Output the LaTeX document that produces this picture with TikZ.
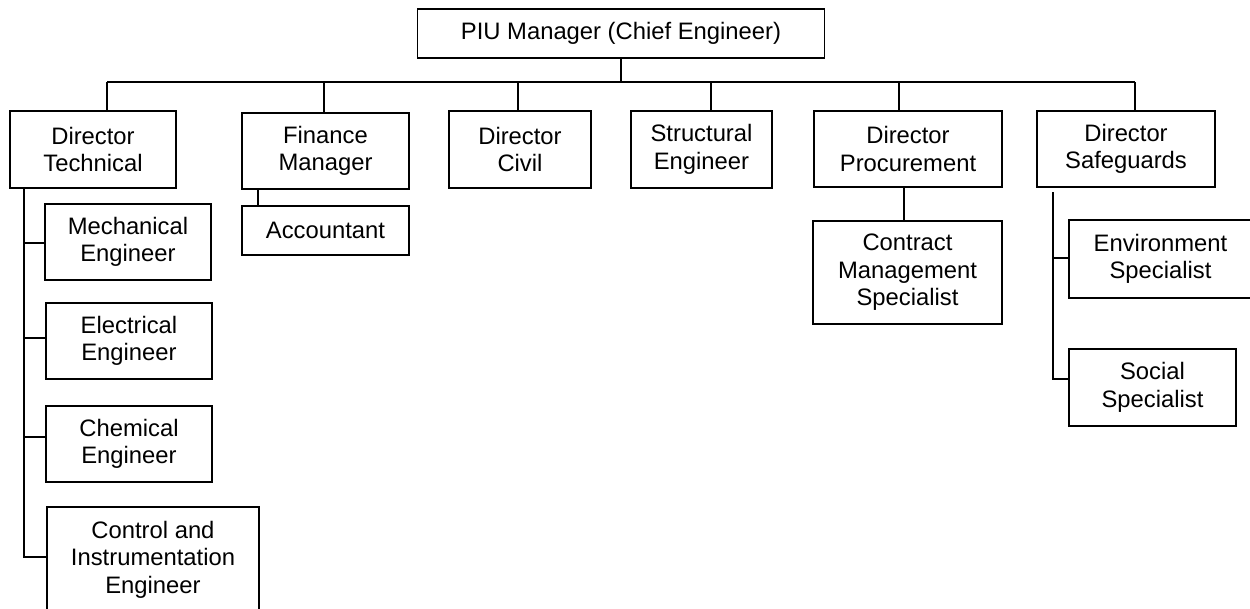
\documentclass[tikz,border=0pt]{standalone}
\usepackage{fontspec}
\setmainfont{Liberation Sans}
\begin{document}
\begin{tikzpicture}[x=1pt,y=-1pt,
  box/.style={draw,line width=1.6pt,rectangle,inner sep=0pt,align=center,
    font=\fontsize{23.8}{27.5}\selectfont},
  conn/.style={line width=1.6pt}]
\useasboundingbox (0,0) rectangle (1250,608);
\clip (0,0) rectangle (1250,608);
\node[box,minimum width=407,minimum height=49] (piu) at (621,33.5) {PIU Manager (Chief Engineer)};
\node[box,minimum width=166,minimum height=77] (dt) at (93,149.5) {Director\\Technical};
\node[box,minimum width=167,minimum height=76] (fm) at (325.5,151) {Finance\\Manager};
\node[box,minimum width=167,minimum height=49] (acc) at (325.5,230.5) {Accountant};
\node[box,minimum width=142,minimum height=77] (dc) at (520,149.5) {Director\\Civil};
\node[box,minimum width=141,minimum height=77] (se) at (701.5,149.5) {Structural\\Engineer};
\node[box,minimum width=188,minimum height=76] (dp) at (908,149) {Director\\Procurement};
\node[box,minimum width=189,minimum height=103] (cms) at (907.5,272.5) {Contract\\Management\\Specialist};
\node[box,minimum width=178,minimum height=76] (ds) at (1126,149) {Director\\Safeguards};
\node[box,minimum width=183,minimum height=78] (env) at (1160.5,259) {Environment\\Specialist};
\node[box,minimum width=167,minimum height=77] (soc) at (1152.5,387.5) {Social\\Specialist};
\node[box,minimum width=166,minimum height=76] (me) at (128,242) {Mechanical\\Engineer};
\node[box,minimum width=166,minimum height=76] (ee) at (129,341) {Electrical\\Engineer};
\node[box,minimum width=166,minimum height=76] (ce) at (129,444) {Chemical\\Engineer};
\node[box,minimum width=212,minimum height=105] (ci) at (153,559.5) {Control and\\Instrumentation\\Engineer};
% top bus
\coordinate (busL) at (107,82);
\coordinate (busR) at (1135,82);
\draw[conn] (piu.south) -- (piu.south |- busL);
\draw[conn] (busL) -- (busR);
\draw[conn] (busL) -- (busL |- dt.north);
\draw[conn] (324,82) -- (324,82 |- fm.north);
\draw[conn] (518,82) -- (518,82 |- dc.north);
\draw[conn] (711,82) -- (711,82 |- se.north);
\draw[conn] (899,82) -- (899,82 |- dp.north);
\draw[conn] (busR) -- (busR |- ds.north);
% finance
\draw[conn] (258,189) -- (258,189 |- acc.north);
% procurement
\draw[conn] (904,187) -- (904,187 |- cms.north);
% technical
\coordinate (tv) at (24,188);
\draw[conn] (tv) -- (24,557) -- (ci.west |- 0,557);
\draw[conn] (24,243) -- (me.west |- 0,243);
\draw[conn] (24,338) -- (ee.west |- 0,338);
\draw[conn] (24,437) -- (ce.west |- 0,437);
% safeguards
\coordinate (sv) at (1053,192);
\draw[conn] (sv) -- (1053,379) -- (soc.west |- 0,379);
\draw[conn] (1053,258) -- (env.west |- 0,258);
\end{tikzpicture}
\end{document}
